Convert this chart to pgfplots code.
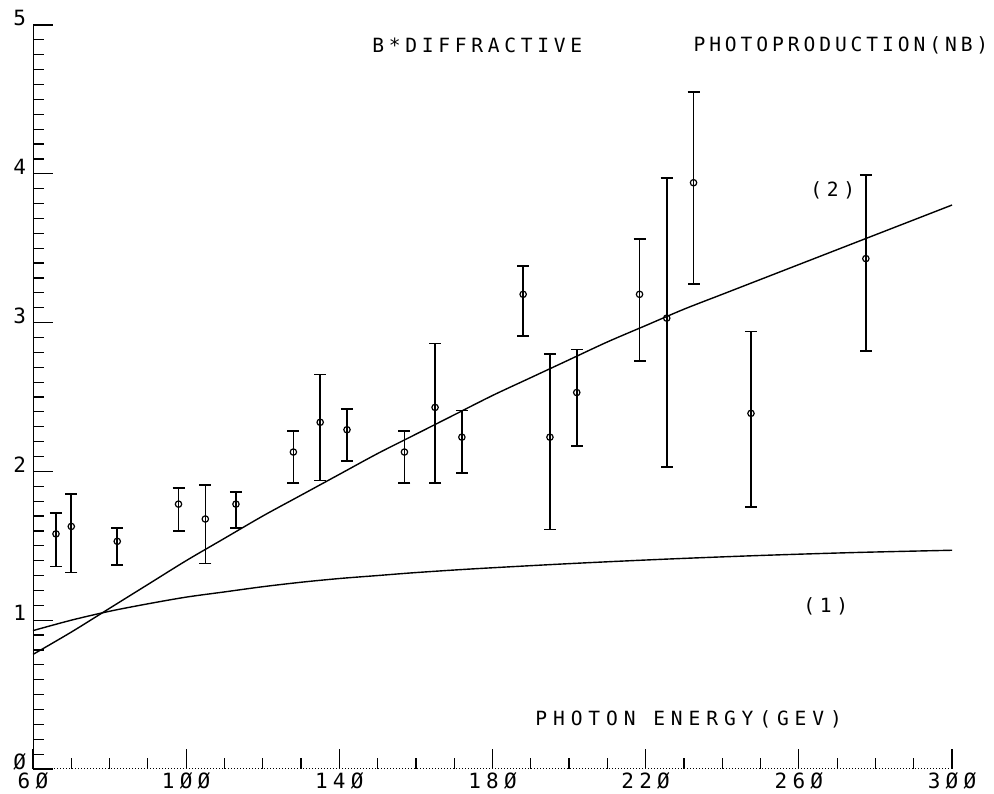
\documentclass[border=0pt]{standalone}
\usepackage{fontspec}
\setmainfont{DejaVu Sans Mono}
\newfontfamily\titlefont[LetterSpace=24]{DejaVu Sans Mono}
\newfontfamily\titlefontb[LetterSpace=20]{DejaVu Sans Mono}
\newfontfamily\labelfont[LetterSpace=30]{DejaVu Sans Mono}
\newfontfamily\tickfont[LetterSpace=25]{DejaVu Sans Mono}
\usepackage{pgfplots}
\pgfplotsset{compat=1.18}
\usepackage{pgfplotstable}

\pgfplotstableread{
x     y     ep    em
66    1.58  0.14  0.22
70    1.63  0.22  0.31
82    1.53  0.09  0.16
98    1.78  0.11  0.18
105   1.68  0.23  0.30
113   1.78  0.08  0.16
128   2.13  0.14  0.21
135   2.33  0.32  0.39
142   2.28  0.14  0.21
157   2.13  0.14  0.21
165   2.43  0.43  0.51
172   2.23  0.18  0.24
188   3.19  0.19  0.28
195   2.23  0.56  0.62
202   2.53  0.29  0.36
218.4 3.19  0.37  0.45
225.5 3.03  0.94  1.00
232.5 3.94  0.61  0.68
247.5 2.39  0.55  0.63
277.5 3.43  0.56  0.62
}\datatable

\begin{document}
\begin{tikzpicture}
\begin{axis}[
  scale only axis, width=459.5pt, height=372pt,
  xmin=60, xmax=300, ymin=0, ymax=5,
  axis x line=bottom, axis y line=left,
  axis line style={-, line width=0.5pt},
  x axis line style={densely dotted},
  xtick={60,100,...,300},
  xticklabels={6Ø,1ØØ,14Ø,18Ø,22Ø,26Ø,3ØØ},
  minor x tick num=3,
  ytick={0,1,2,3,4,5},
  yticklabels={Ø,1,2,3,4,5},
  minor y tick num=9,
  tick align=inside,
  major tick length=10pt, minor tick length=5.5pt,
  tick style={black, line width=0.6pt, solid},
  /pgf/number format/assume math mode=true,
  tick label style={font=\tickfont\fontsize{10.5}{10.5}\selectfont},
  xticklabel style={yshift=2pt},
  yticklabel style={yshift=3.5pt},
  clip=false,
]
\coordinate (bl) at (rel axis cs:0,0);
\coordinate (tr) at (rel axis cs:1,1);

% curve (2)
\addplot[black, line width=0.7pt, smooth] coordinates {
 (60,0.77) (70,0.92) (80,1.08) (90,1.24) (100,1.40) (110,1.55) (120,1.70)
 (130,1.84) (140,1.98) (150,2.12) (160,2.25) (170,2.38) (180,2.51)
 (190,2.63) (200,2.75) (210,2.87) (220,2.98) (230,3.09) (240,3.19)
 (250,3.29) (260,3.39) (270,3.49) (280,3.59) (290,3.69) (300,3.79)};

% curve (1)
\addplot[black, line width=0.7pt, smooth] coordinates {
 (60,0.93) (70,1.00) (80,1.06) (90,1.11) (100,1.155) (110,1.19) (120,1.225)
 (130,1.255) (140,1.28) (150,1.30) (160,1.32) (175,1.345) (200,1.38)
 (225,1.41) (250,1.435) (275,1.455) (300,1.47)};

% data
\addplot[black, only marks, mark=o, mark size=1.6pt, mark options={line width=0.6pt},
  error bars/.cd, y dir=both, y explicit,
  error bar style={line width=0.8pt},
  error mark options={rotate=90, mark size=3pt, line width=0.8pt}]
  table[x=x, y=y, y error plus=ep, y error minus=em] {\datatable};

\node[anchor=west, inner sep=0pt, font=\titlefont\fontsize{9.8}{9.8}\selectfont] at (axis cs:148.5,4.865) {B*DIFFRACTIVE};
\node[anchor=west, inner sep=0pt, font=\titlefontb\fontsize{9.8}{9.8}\selectfont] at (axis cs:232.4,4.865) {PHOTOPRODUCTION(NB)};
\node[anchor=west, inner sep=0pt, font=\titlefont\fontsize{9.8}{9.8}\selectfont] at (axis cs:262.9,3.89) {(2)};
\node[anchor=west, inner sep=0pt, font=\titlefont\fontsize{9.8}{9.8}\selectfont] at (axis cs:261.1,1.09) {(1)};
\node[anchor=west, inner sep=0pt, font=\labelfont\fontsize{9.8}{9.8}\selectfont] at (axis cs:191.1,0.336) {PHOTON ENERGY(GEV)};
\end{axis}
\pgfresetboundingbox
\path ([shift={(-16.5pt,-12.5pt)}]bl) rectangle ([shift={(21pt,12.5pt)}]tr);
\end{tikzpicture}
\end{document}
